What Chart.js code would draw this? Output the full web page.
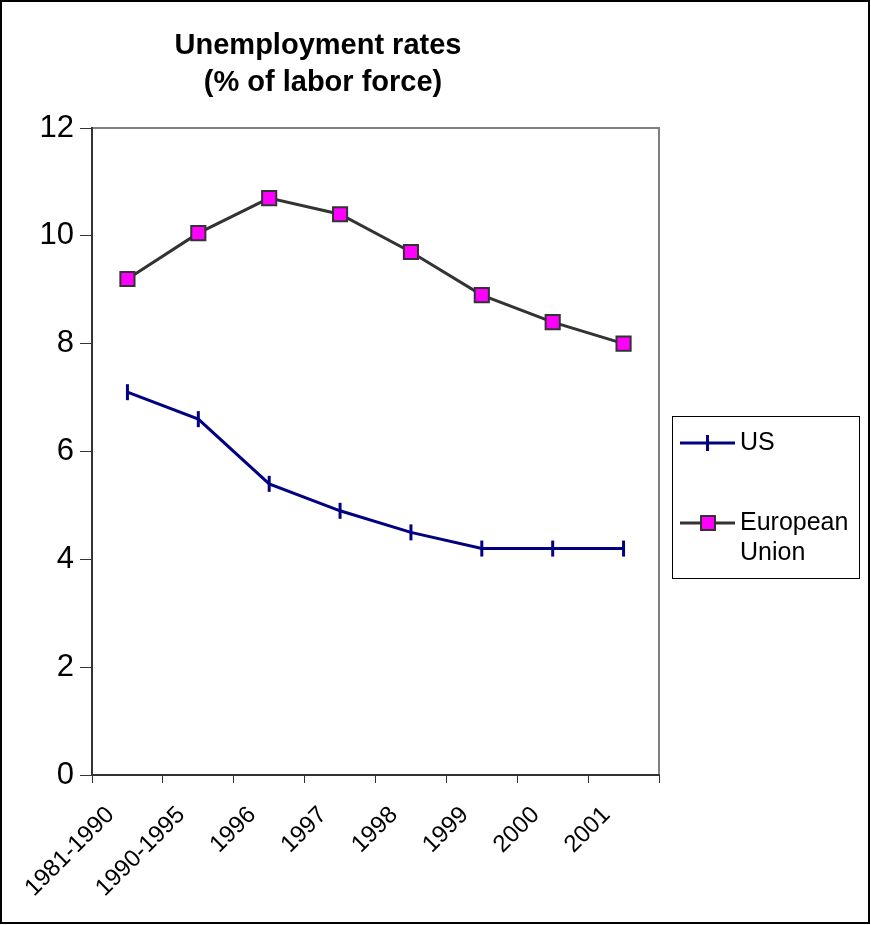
<!DOCTYPE html>
<html>
<head>
<meta charset="utf-8">
<script src="https://cdn.jsdelivr.net/npm/chart.js@4.4.1/dist/chart.umd.min.js"></script>
<style>
  html, body { margin: 0; padding: 0; background: #fff; }
  #wrap { width: 871px; height: 925px; position: relative; }
</style>
</head>
<body>
<div id="wrap"><canvas id="chart" width="871" height="925"></canvas></div>
<script>
const periods = ['1981-1990', '1990-1995', '1996', '1997', '1998', '1999', '2000', '2001'];
const usRates = [7.1, 6.6, 5.4, 4.9, 4.5, 4.2, 4.2, 4.2];
const euRates = [9.2, 10.05, 10.7, 10.4, 9.7, 8.9, 8.4, 8.0];
const yTicks = [0, 2, 4, 6, 8, 10, 12];
const titleLines = ['Unemployment rates', '(% of labor force)'];
const seriesNames = ['US', 'European Union'];

const FONT = 'Arial, "Liberation Sans", sans-serif';
Chart.defaults.font.family = FONT;
Chart.defaults.color = '#000';

// frame, plot border, title and the boxed legend
const decor = {
  id: 'decor',
  beforeDraw(chart) {
    const ctx = chart.ctx, a = chart.chartArea;
    ctx.save();
    ctx.fillStyle = '#fff';
    ctx.fillRect(0, 0, chart.width, chart.height);
    ctx.strokeStyle = '#000';
    ctx.lineWidth = 2;
    ctx.strokeRect(1, 1, chart.width - 3, chart.height - 3);
    ctx.strokeStyle = '#808080';
    ctx.beginPath();
    ctx.moveTo(a.left, a.top);
    ctx.lineTo(a.right, a.top);
    ctx.lineTo(a.right, a.bottom);
    ctx.stroke();

    ctx.fillStyle = '#000';
    ctx.font = 'bold 29px ' + FONT;
    ctx.textAlign = 'center';
    ctx.fillText(titleLines[0], 318, 54);
    ctx.fillText(titleLines[1], 323, 91);
    ctx.restore();
  },
  afterDraw(chart) {
    const ctx = chart.ctx;
    const bx = 672, by = 416, bw = 187, bh = 162;
    ctx.save();
    ctx.strokeStyle = '#000';
    ctx.lineWidth = 1;
    ctx.strokeRect(bx + 0.5, by + 0.5, bw, bh);
    ctx.font = '25px ' + FONT;
    ctx.textBaseline = 'middle';
    ctx.textAlign = 'left';
    const rows = [443, 523];
    chart.data.datasets.forEach((ds, i) => {
      const y = rows[i];
      ctx.strokeStyle = ds.borderColor;
      ctx.lineWidth = ds.borderWidth;
      ctx.beginPath();
      ctx.moveTo(680, y);
      ctx.lineTo(735, y);
      ctx.stroke();
      if (ds.pointStyle === 'rect') {
        ctx.fillStyle = ds.pointBackgroundColor;
        ctx.fillRect(701, y - 7, 14, 14);
        ctx.lineWidth = ds.pointBorderWidth;
        ctx.strokeStyle = ds.pointBorderColor;
        ctx.strokeRect(701, y - 7, 14, 14);
      } else {
        ctx.strokeStyle = ds.pointBorderColor;
        ctx.lineWidth = ds.pointBorderWidth;
        ctx.beginPath();
        ctx.moveTo(707.5, y - 8);
        ctx.lineTo(707.5, y + 8);
        ctx.stroke();
      }
      ctx.fillStyle = '#000';
      const words = ds.label.split(' ');
      words.forEach((w, k) => ctx.fillText(w, 740, y + k * 30));
    });
    ctx.restore();
  }
};

new Chart(document.getElementById('chart'), {
  type: 'line',
  data: {
    labels: periods,
    datasets: [
      {
        label: seriesNames[0],
        data: usRates,
        borderColor: '#000080',
        borderWidth: 3,
        pointStyle: 'line',
        rotation: 90,
        pointRadius: 8,
        pointBorderWidth: 3,
        pointBorderColor: '#000080',
        pointBackgroundColor: '#000080',
        tension: 0
      },
      {
        label: seriesNames[1],
        data: euRates,
        borderColor: '#333333',
        borderWidth: 3,
        pointStyle: 'rect',
        pointRadius: 10,
        pointBorderWidth: 2,
        pointBorderColor: '#333333',
        pointBackgroundColor: '#FF00FF',
        tension: 0
      }
    ]
  },
  options: {
    responsive: false,
    animation: false,
    layout: { padding: { left: 0, top: 128, right: 212, bottom: 0 } },
    plugins: {
      legend: { display: false },
      title: { display: false },
      tooltip: { enabled: false }
    },
    scales: {
      x: {
        offset: true,
        grid: { offset: true, drawOnChartArea: false, tickLength: 8, color: '#333', lineWidth: 1 },
        border: { color: '#333', width: 2 },
        ticks: { autoSkip: false, maxRotation: 45, minRotation: 45, font: { size: 24 }, padding: 18, labelOffset: -17 },
        afterFit(scale) { scale.height = 150; }
      },
      y: {
        min: 0,
        max: 12,
        afterBuildTicks(scale) { scale.ticks = yTicks.map(v => ({ value: v })); },
        grid: { drawOnChartArea: false, tickLength: 12, color: '#333', lineWidth: 1 },
        border: { color: '#333', width: 2 },
        ticks: { font: { size: 31 }, padding: 6 },
        afterFit(scale) { scale.width = 92; }
      }
    }
  },
  plugins: [decor]
});
</script>
</body>
</html>
